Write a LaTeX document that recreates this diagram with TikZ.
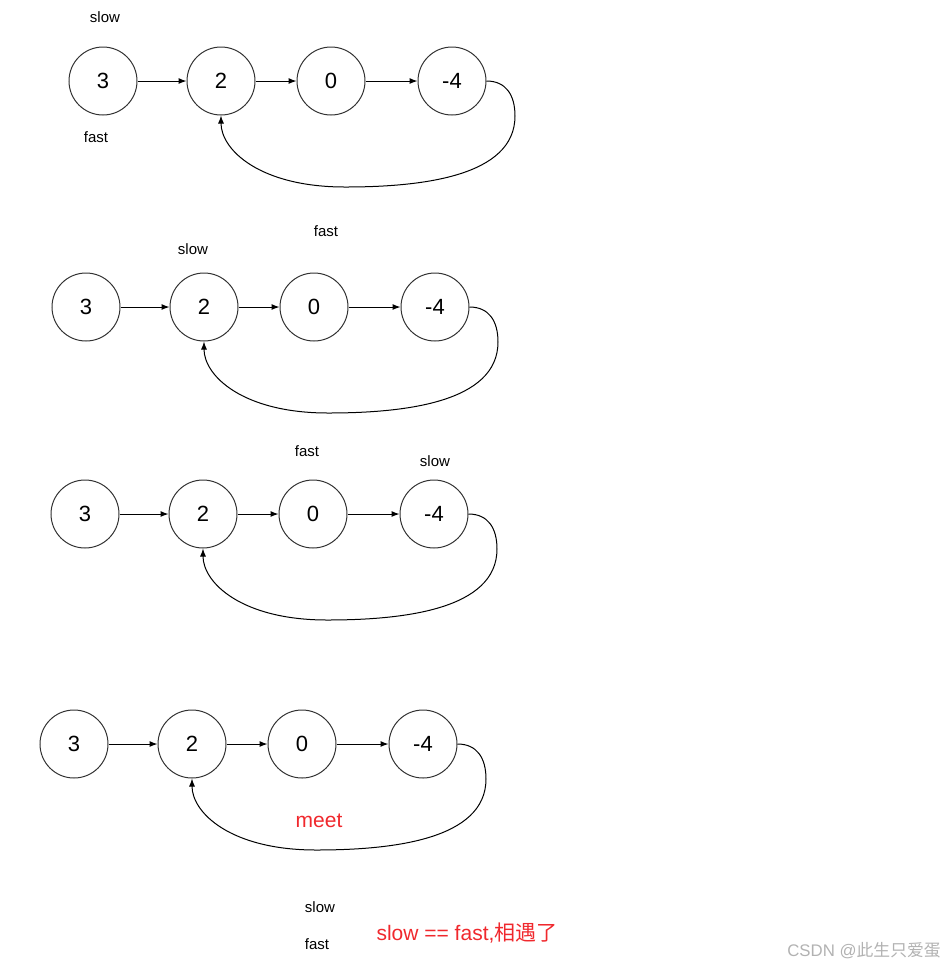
\documentclass[tikz,border=0pt]{standalone}
\usepackage{fontspec}
\setmainfont{Liberation Sans}
\newfontfamily\cjkfont{Noto Sans CJK SC}
\usetikzlibrary{arrows.meta}

\definecolor{meetred}{RGB}{240,40,45}

\tikzset{
  listnode/.style={draw=black!80, line width=0.5pt, circle, minimum size=34pt, inner sep=0pt, font=\fontsize{11}{13}\selectfont},
  ptrlabel/.style={font=\fontsize{7.5}{9}\selectfont},
  redlabel/.style={text=meetred, font=\fontsize{10.5}{12}\selectfont},
  nextarrow/.style={-{Latex[length=4pt,width=3pt]}, line width=0.5pt}
}

\begin{document}
\begin{tikzpicture}[x=0.5pt, y=-0.5pt]
\useasboundingbox (0,0) rectangle (951,971);

% four snapshots of the same list
\foreach \row/\x/\y in {a/103/81, b/86/307, c/85/514, d/74/744} {
  \node[listnode] (\row1) at (\x,\y) {3};
  \node[listnode] (\row2) at (\x+118,\y) {2};
  \node[listnode] (\row3) at (\x+228,\y) {0};
  \node[listnode] (\row4) at (\x+349,\y) {-4};
  \draw[nextarrow] (\row1) -- (\row2);
  \draw[nextarrow] (\row2) -- (\row3);
  \draw[nextarrow] (\row3) -- (\row4);
  % back edge -4 -> 2
  \draw[nextarrow] (\row4.east) .. controls (\x+403,\y) and (\x+412,\y+14) .. (\x+412,\y+35)
    .. controls (\x+412,\y+96) and (\x+317,\y+106) .. (\x+242,\y+106)
    .. controls (\x+157,\y+106) and (\x+118,\y+69) .. (\row2.south);
}

\node[ptrlabel] (slowa) at (105,17) {slow};
\node[ptrlabel] (fasta) at (96,137) {fast};
\node[ptrlabel] (slowb) at (193,249) {slow};
\node[ptrlabel] (fastb) at (326,231) {fast};
\node[ptrlabel] (fastc) at (307,451) {fast};
\node[ptrlabel] (slowc) at (435,461) {slow};
\node[redlabel] (meet) at (319,821) {meet};
\node[ptrlabel] (slowd) at (320,907) {slow};
\node[ptrlabel] (fastd) at (317,944) {fast};
\node[redlabel] (equal) at (467,933) {slow == fast,{\cjkfont 相遇了}};

\node[font=\fontsize{8.4}{10}\selectfont, text=black!30] (mark) at (864,951) {CSDN @{\cjkfont 此生只爱蛋}};
\end{tikzpicture}
\end{document}
